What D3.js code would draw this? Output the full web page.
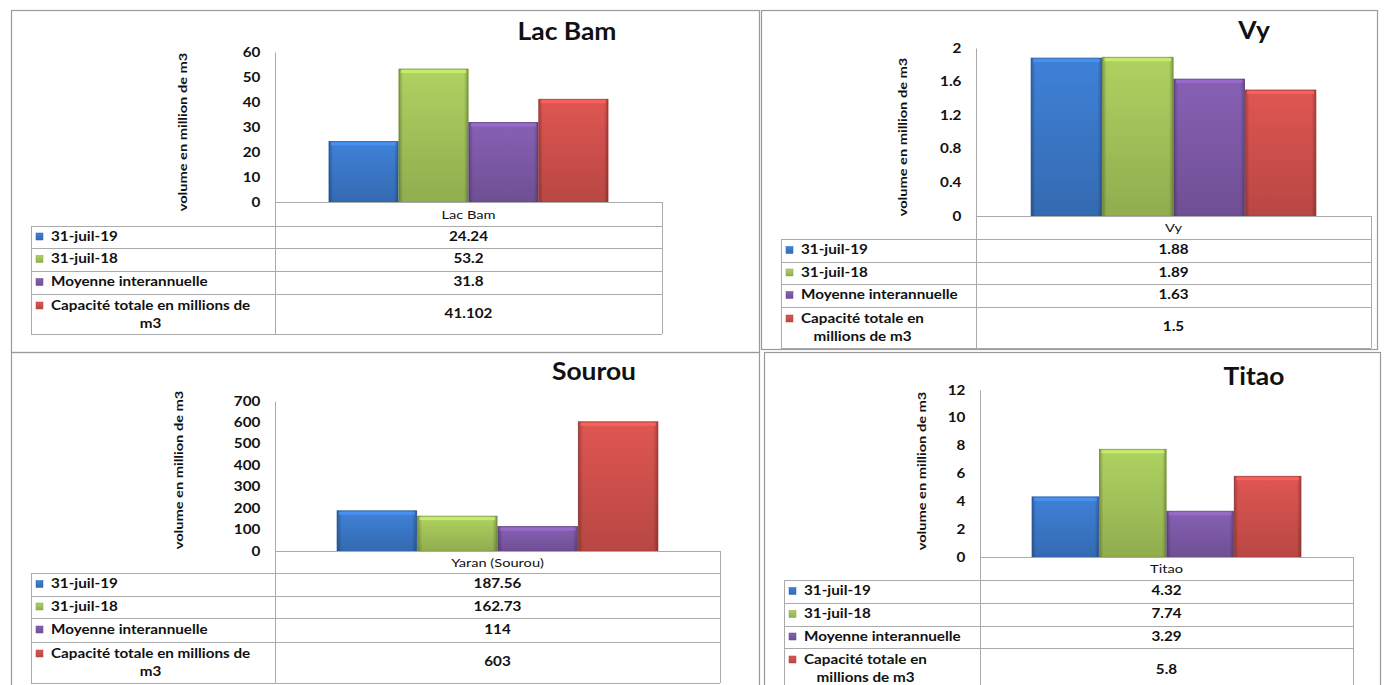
<!DOCTYPE html>
<html><head><meta charset="utf-8">
<script src="https://cdn.jsdelivr.net/npm/d3@7"></script>
<style>
html,body{margin:0;padding:0;background:#fff;}
svg{display:block;font-family:Lato,"Open Sans",sans-serif;}
</style></head>
<body><svg id="c" width="1386" height="685"></svg>
<script>
// ---- data ----
const titles = ["Lac Bam", "Vy", "Sourou", "Titao"];
const categories = ["Lac Bam", "Vy", "Yaran (Sourou)", "Titao"];
const seriesNames = ["31-juil-19", "31-juil-18", "Moyenne interannuelle", "Capacité totale en millions de m3"];
const jul19 = [24.24, 1.88, 187.56, 4.32];
const jul18 = [53.2, 1.89, 162.73, 7.74];
const moyenne = [31.8, 1.63, 114, 3.29];
const capacite = [41.102, 1.5, 603, 5.8];
const valueLabels19 = ["24.24", "1.88", "187.56", "4.32"];
const valueLabels18 = ["53.2", "1.89", "162.73", "7.74"];
const valueLabelsMoy = ["31.8", "1.63", "114", "3.29"];
const valueLabelsCap = ["41.102", "1.5", "603", "5.8"];
const yTicks = [
  [0, 10, 20, 30, 40, 50, 60],
  [0, 0.4, 0.8, 1.2, 1.6, 2],
  [0, 100, 200, 300, 400, 500, 600, 700],
  [0, 2, 4, 6, 8, 10, 12]
];
const yTickLabels = [
  ["0", "10", "20", "30", "40", "50", "60"],
  ["0", "0.4", "0.8", "1.2", "1.6", "2"],
  ["0", "100", "200", "300", "400", "500", "600", "700"],
  ["0", "2", "4", "6", "8", "10", "12"]
];
const yAxisTitle = "volume en million de m3";
const capLabelLines = [
  ["Capacité totale en millions de", "m3"],
  ["Capacité totale en", "millions de m3"],
  ["Capacité totale en millions de", "m3"],
  ["Capacité totale en", "millions de m3"]
];

// ---- styles / layout ----
const colors = ["#3b78c9", "#a3c45a", "#7e59a8", "#d0504c"];
const layout = [
  {axisX: 275, right: 662, top: 52, bottom: 202, tLeft: 31, rows: [226, 248, 271, 294, 334], titleX: 567, titleY: 40, ylX: 187, ylY: 132},
  {axisX: 976, right: 1371, top: 48, bottom: 216, tLeft: 781, rows: [239, 262, 284, 307, 348], titleX: 1254, titleY: 39, ylX: 907, ylY: 137},
  {axisX: 275, right: 720, top: 401, bottom: 551, tLeft: 31, rows: [573, 596, 618, 642, 683], titleX: 594, titleY: 380, ylX: 183, ylY: 470},
  {axisX: 980, right: 1353, top: 390, bottom: 557, tLeft: 784, rows: [580, 603, 626, 648, 692], titleX: 1254, titleY: 385, ylX: 926, ylY: 471}
];
const frames = [[11, 10, 748, 342], [761, 10, 616, 339], [11, 352, 748, 340], [764, 352, 616, 340]];
const SX = 1.22;

const svg = d3.select("#c");
const defs = svg.append("defs");
colors.forEach((c, i) => {
  const g = defs.append("linearGradient").attr("id", "g" + i).attr("x1", 0).attr("y1", 0).attr("x2", 0).attr("y2", 1);
  g.append("stop").attr("offset", "0%").attr("stop-color", d3.color(c).brighter(0.2));
  g.append("stop").attr("offset", "100%").attr("stop-color", d3.color(c).darker(0.35));
  const h = defs.append("linearGradient").attr("id", "h" + i).attr("x1", 0).attr("y1", 0).attr("x2", 1).attr("y2", 0);
  h.append("stop").attr("offset", "0%").attr("stop-color", "#000").attr("stop-opacity", 0.25);
  h.append("stop").attr("offset", "6%").attr("stop-color", "#000").attr("stop-opacity", 0);
  h.append("stop").attr("offset", "94%").attr("stop-color", "#000").attr("stop-opacity", 0);
  h.append("stop").attr("offset", "100%").attr("stop-color", "#000").attr("stop-opacity", 0.25);
});

function txt(g, x, y, s, o) {
  o = o || {};
  const sx = o.sx || SX;
  return g.append("text")
    .attr("transform", `translate(${x},${y})${o.rot ? ` rotate(${o.rot})` : ""} scale(${sx},1)`)
    .attr("text-anchor", o.anchor || "start")
    .attr("font-size", o.size || 12.5)
    .attr("font-weight", o.weight || "bold")
    .attr("fill", "#111")
    .text(s);
}

// frames
frames.forEach(f => {
  svg.append("rect").attr("x", f[0] + 0.5).attr("y", f[1] + 0.5).attr("width", f[2]).attr("height", f[3])
    .attr("fill", "none").attr("stroke", "#9a9a9a").attr("stroke-width", 1.2);
});

const allSeries = [jul19, jul18, moyenne, capacite];
const allLabels = [valueLabels19, valueLabels18, valueLabelsMoy, valueLabelsCap];
const lineCol = "#aaaaaa";

titles.forEach((t, p) => {
  const L = layout[p];
  const g = svg.append("g");
  const ticks = yTicks[p];
  const y = d3.scaleLinear().domain([0, d3.max(ticks)]).range([L.bottom, L.top]);
  const x0 = d3.scaleBand().domain([categories[p]]).range([L.axisX, L.right]).paddingInner(0).paddingOuter(0.19);
  const x1 = d3.scaleBand().domain(d3.range(4)).range([0, x0.bandwidth()]).padding(0.01);

  // title
  txt(g, L.titleX, L.titleY, t, {anchor: "middle", size: 24, sx: 1.1});

  // y axis
  const axis = d3.axisLeft(y).tickValues(ticks).tickFormat((d, i) => yTickLabels[p][i]).tickSize(0).tickPadding(12);
  const ag = g.append("g").attr("transform", `translate(${L.axisX},0)`).call(axis);
  ag.select(".domain").attr("stroke", lineCol);
  ag.selectAll(".tick text").attr("font-size", 12.5).attr("font-weight", "bold").attr("fill", "#111")
    .attr("font-family", "Lato, sans-serif").attr("transform", `scale(${SX},1)`);

  // y axis title
  txt(g, L.ylX, L.ylY, yAxisTitle, {anchor: "middle", size: 12, rot: -90});

  // bars
  allSeries.forEach((s, i) => {
    const bx = x0(categories[p]) + x1(i);
    const bw = x1.bandwidth();
    const by = y(s[p]);
    const bh = y(0) - y(s[p]);
    g.append("rect").attr("x", bx).attr("y", by).attr("width", bw).attr("height", bh)
      .attr("fill", `url(#g${i})`).attr("stroke", d3.color(colors[i]).darker(0.6)).attr("stroke-width", 0.8);
    g.append("rect").attr("x", bx).attr("y", by).attr("width", bw).attr("height", bh).attr("fill", `url(#h${i})`);
    g.append("rect").attr("x", bx + 2).attr("y", by + 1).attr("width", bw - 4).attr("height", 3)
      .attr("fill", d3.color(colors[i]).brighter(0.6)).attr("opacity", 0.8);
  });

  // data table
  const rows = L.rows;
  const tl = L.tLeft;
  const midX = x0(categories[p]) + x0.bandwidth() / 2;
  g.append("line").attr("x1", L.axisX).attr("x2", L.right).attr("y1", L.bottom + 0.5).attr("y2", L.bottom + 0.5).attr("stroke", lineCol);
  g.append("line").attr("x1", L.right + 0.5).attr("x2", L.right + 0.5).attr("y1", L.bottom).attr("y2", rows[4]).attr("stroke", lineCol);
  g.append("line").attr("x1", L.axisX + 0.5).attr("x2", L.axisX + 0.5).attr("y1", L.bottom).attr("y2", rows[4]).attr("stroke", lineCol);
  txt(g, midX, (L.bottom + rows[0]) / 2 + 4.5, categories[p], {anchor: "middle", size: 12, weight: "normal"});
  rows.forEach(r => {
    g.append("line").attr("x1", tl).attr("x2", L.right).attr("y1", r + 0.5).attr("y2", r + 0.5).attr("stroke", lineCol);
  });
  g.append("line").attr("x1", tl + 0.5).attr("x2", tl + 0.5).attr("y1", rows[0]).attr("y2", rows[4]).attr("stroke", lineCol);

  seriesNames.forEach((name, i) => {
    const rt = rows[i], rb = rows[i + 1];
    const cy = (rt + rb) / 2;
    const lines = i === 3 ? capLabelLines[p] : [name];
    const ky = lines.length > 1 ? rt + 8 : cy - 4;
    g.append("rect").attr("x", tl + 5).attr("y", ky).attr("width", 7).attr("height", 7)
      .attr("fill", `url(#g${i})`).attr("stroke", d3.color(colors[i]).darker(0.5)).attr("stroke-width", 0.5);
    if (lines.length === 1) {
      txt(g, tl + 20, cy + 3.5, lines[0]);
    } else {
      const t1 = txt(g, tl + 20, rt + 16, lines[0]);
      const w1 = t1.node().getBBox().width * SX;
      txt(g, tl + 20 + w1 / 2, rt + 34, lines[1], {anchor: "middle"});
    }
    txt(g, midX, cy + 3.5, allLabels[i][p], {anchor: "middle"});
  });
});
</script></body></html>
